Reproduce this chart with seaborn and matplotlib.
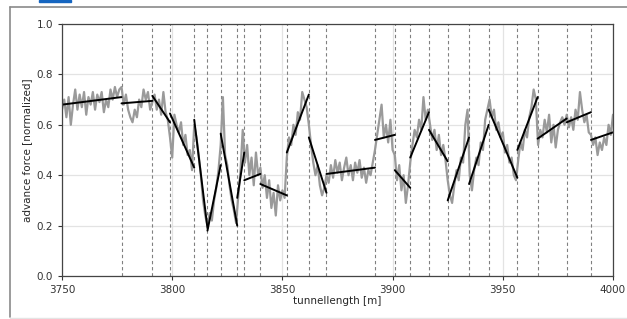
import matplotlib
matplotlib.use("Agg")
import matplotlib.pyplot as plt
import numpy as np
import pandas as pd
import seaborn as sns
from matplotlib.lines import Line2D
from matplotlib.patches import Rectangle

# measured advance force, one reading per metre from 3750 to 4000
start_m = 3750
force = [
    0.66, 0.70, 0.63, 0.71, 0.60, 0.68, 0.74, 0.66, 0.72, 0.67,
    0.73, 0.64, 0.71, 0.68, 0.73, 0.66, 0.72, 0.69, 0.73, 0.65,
    0.70, 0.67, 0.74, 0.70, 0.75, 0.71, 0.74,
    0.75, 0.68, 0.72, 0.66, 0.63, 0.61, 0.66, 0.63, 0.70, 0.67,
    0.74, 0.70, 0.73, 0.66,
    0.69, 0.72, 0.66, 0.70, 0.64, 0.73, 0.65, 0.62,
    0.55, 0.47, 0.64, 0.60, 0.57, 0.61, 0.52, 0.56, 0.48, 0.50, 0.42,
    0.60, 0.55, 0.48, 0.40, 0.30, 0.24,
    0.20, 0.25, 0.22, 0.30, 0.35, 0.42,
    0.52, 0.71, 0.48, 0.44, 0.36, 0.30, 0.26, 0.21,
    0.32, 0.42, 0.58,
    0.45, 0.52, 0.40, 0.47, 0.36, 0.49, 0.40,
    0.43, 0.35, 0.40, 0.31, 0.38, 0.27, 0.33, 0.24, 0.36, 0.30, 0.34, 0.31,
    0.47, 0.55, 0.52, 0.60, 0.56, 0.65, 0.62, 0.73, 0.70, 0.67,
    0.60, 0.52, 0.45, 0.40, 0.44, 0.36, 0.32, 0.35,
    0.40, 0.37, 0.44, 0.39, 0.46, 0.41, 0.45, 0.38, 0.43, 0.47,
    0.40, 0.44, 0.38, 0.45, 0.41, 0.46, 0.39, 0.43, 0.37, 0.42,
    0.40, 0.45,
    0.50, 0.56, 0.62, 0.68, 0.55, 0.60, 0.53, 0.62, 0.50,
    0.48, 0.38, 0.44, 0.34, 0.40, 0.29, 0.36,
    0.45, 0.52, 0.58, 0.55, 0.62, 0.58, 0.71, 0.62, 0.66,
    0.60, 0.54, 0.58, 0.50, 0.56, 0.48, 0.52, 0.46,
    0.38, 0.32, 0.29, 0.36, 0.42, 0.38, 0.47, 0.45, 0.60, 0.66,
    0.40, 0.34, 0.42, 0.47, 0.44, 0.53, 0.50, 0.62, 0.66,
    0.70, 0.63, 0.66, 0.58, 0.61, 0.55, 0.57, 0.49, 0.52, 0.45,
    0.47, 0.40, 0.38,
    0.46, 0.53, 0.50, 0.58, 0.55, 0.63, 0.67, 0.74, 0.70,
    0.52, 0.58, 0.55, 0.62, 0.57, 0.64, 0.53, 0.60, 0.51, 0.58,
    0.61, 0.63, 0.60,
    0.64, 0.59, 0.63, 0.58, 0.66, 0.62, 0.73, 0.66, 0.61, 0.64, 0.57,
    0.56, 0.52, 0.55, 0.48, 0.53, 0.50, 0.55, 0.52, 0.60, 0.56, 0.64,
]

# segment boundaries [m] and linear fit values at start / end of each segment
bounds = [3750, 3777, 3791, 3799, 3810, 3816, 3822, 3829.5, 3832.7, 3840,
          3852, 3862, 3870, 3892, 3901, 3908, 3916.5, 3925, 3934.7, 3943.6,
          3956.6, 3965.8, 3979, 3990, 4000]
fit_start = [0.68, 0.685, 0.715, 0.645, 0.62, 0.18, 0.565, 0.31, 0.38, 0.365,
             0.49, 0.55, 0.405, 0.54, 0.42, 0.47, 0.58, 0.30, 0.365, 0.66,
             0.50, 0.545, 0.61, 0.54]
fit_end = [0.71, 0.695, 0.61, 0.43, 0.19, 0.44, 0.20, 0.49, 0.405, 0.32,
           0.72, 0.33, 0.43, 0.56, 0.35, 0.65, 0.455, 0.55, 0.60, 0.39,
           0.71, 0.625, 0.65, 0.57]

df = pd.DataFrame({'tunnellength': start_m + np.arange(len(force)),
                   'force': force})

seg_rows = []
for i in range(len(fit_start)):
    seg_rows.append({'seg': i, 'tunnellength': bounds[i], 'force': fit_start[i]})
    seg_rows.append({'seg': i, 'tunnellength': bounds[i + 1], 'force': fit_end[i]})
df_seg = pd.DataFrame(seg_rows)

sns.set_style('ticks')
plt.rcParams['font.family'] = ['DejaVu Sans']

W, H = 627, 319
fig = plt.figure(figsize=(W / 100, H / 100), dpi=100)
ax = fig.add_axes([62 / W, 1 - 276 / H, 551 / W, 252 / H])

# screenshot frame (top + left edge, faint bottom) and tab marker
ft = fig.transFigure
fig.lines.append(Line2D([10 / W, 1], [1 - 6.5 / H] * 2, transform=ft,
                        color='#8a8a8a', linewidth=1.2))
fig.lines.append(Line2D([10 / W] * 2, [1 - 6.5 / H, 1 - 317 / H], transform=ft,
                        color='#8a8a8a', linewidth=1.2))
fig.lines.append(Line2D([10 / W, 1], [1 - 317.5 / H] * 2, transform=ft,
                        color='#e4e4e4', linewidth=1.0))
fig.patches.append(Rectangle((39 / W, 1 - 2.2 / H), 32 / W, 2.2 / H,
                             transform=ft, color='#1565c0'))

sns.lineplot(data=df, x='tunnellength', y='force', color='#9a9a9a',
             linewidth=1.6, ax=ax)
for b in bounds[1:-1]:
    ax.axvline(b, color='#808080', linestyle='--', linewidth=0.8,
               dashes=(3, 2.5), zorder=1)
sns.lineplot(data=df_seg, x='tunnellength', y='force', units='seg',
             estimator=None, color='black', linewidth=1.4, ax=ax)

ax.set_xlim(3750, 4000)
ax.set_ylim(0, 1.0)
ax.set_xticks([3750, 3800, 3850, 3900, 3950, 4000])
ax.set_yticks([0.0, 0.2, 0.4, 0.6, 0.8, 1.0])
ax.grid(True, color='#e3e3e3', linewidth=0.9, zorder=0)
ax.set_axisbelow(True)
ax.set_xlabel('tunnellength [m]', fontsize=7.5, labelpad=1)
ax.set_ylabel('advance force [normalized]', fontsize=7.5, labelpad=3)
ax.tick_params(labelsize=7.5, length=3, width=0.8, colors='#333333')
for s in ax.spines.values():
    s.set_color('#444444')
    s.set_linewidth(0.9)

fig.savefig('out.png', dpi=100)
